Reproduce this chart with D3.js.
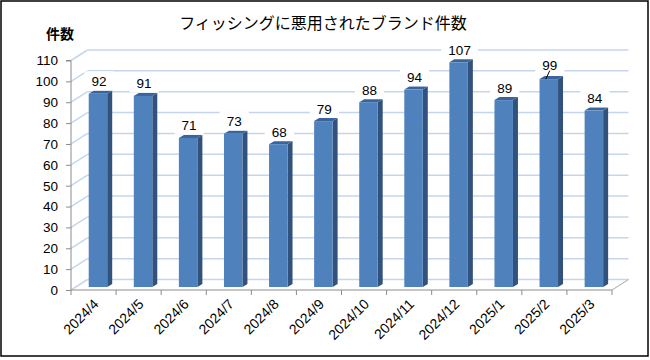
<!DOCTYPE html>
<html><head><meta charset="utf-8">
<script src="https://cdn.jsdelivr.net/npm/d3@7"></script>
<style>body{margin:0;background:#fff}</style>
</head><body><svg id="c" width="650" height="360"></svg>
<script>
const categories = ["2024/4","2024/5","2024/6","2024/7","2024/8","2024/9","2024/10","2024/11","2024/12","2025/1","2025/2","2025/3"];
const values = [92,91,71,73,68,79,88,94,107,89,99,84];
const yTicks = [0,10,20,30,40,50,60,70,80,90,100,110];
const leaderCats = ["2025/2"];
const title = "フィッシングに悪用されたブランド件数";
const yTitle = "件数";

const svg = d3.select("#c");
const font = "'Noto Sans CJK JP','Liberation Sans',sans-serif";
const numFont = "'Liberation Sans','DejaVu Sans',sans-serif";

// outer border
svg.append("rect").attr("x",1).attr("y",1).attr("width",647).attr("height",355)
  .attr("fill","#fff").attr("stroke","#000").attr("stroke-width",1.5);

const x = d3.scaleBand().domain(categories).range([71,612]).padding(0);
const y = d3.scaleLinear().domain([0,110]).range([290,60.5]);
const yBar = d3.scaleLinear().domain([0,110]).range([287,56]);
const DX = 16.5, DY = -10.5; // wall depth
const bdx = 5, bdy = -3;     // bar depth

// back-wall gridlines
const g = svg.append("g");
yTicks.forEach(t => {
  const yy = y(t);
  g.append("line").attr("x1",x.range()[0]).attr("y1",yy).attr("x2",x.range()[0]+DX).attr("y2",yy+DY)
    .attr("stroke","#C5D6EC").attr("stroke-width",1.5);
  g.append("line").attr("x1",x.range()[0]+DX).attr("y1",yy+DY).attr("x2",x.range()[1]+DX).attr("y2",yy+DY)
    .attr("stroke","#C5D6EC").attr("stroke-width",1.5);
});
g.append("line").attr("x1",x.range()[1]).attr("y1",y(0)).attr("x2",x.range()[1]+DX).attr("y2",y(0)+DY)
  .attr("stroke","#A6A6A6").attr("stroke-width",1);

// y axis
const yAxis = d3.axisLeft(y).tickValues(yTicks).tickSize(5).tickPadding(8);
const ya = svg.append("g").attr("transform",`translate(${x.range()[0]},0)`).call(yAxis);
ya.select(".domain").attr("stroke","#8C8C8C").attr("d",`M-5,${y(110)}H0V${y(0)}`);
ya.selectAll(".tick line").attr("stroke","#8C8C8C");
ya.selectAll(".tick text").attr("font-family",numFont).attr("font-size",13.5).attr("fill","#000");

// x axis
const xAxis = d3.axisBottom(x).tickSize(0).tickFormat("");
const xa = svg.append("g").attr("transform",`translate(0,${y(0)})`).call(xAxis);
xa.select(".domain").attr("stroke","#8C8C8C").attr("d",`M${x.range()[0]},0H${x.range()[1]}`);
const tickPos = categories.map(c => x(c)).concat([x.range()[1]]);
xa.selectAll("line.cat").data(tickPos).enter().append("line").attr("class","cat")
  .attr("x1",d=>d).attr("x2",d=>d).attr("y1",0).attr("y2",5).attr("stroke","#8C8C8C");

svg.append("g").selectAll("text").data(categories).enter().append("text")
  .attr("transform",d=>`translate(${x(d)+x.bandwidth()/2+6},${y(0)+15}) rotate(-45)`)
  .attr("text-anchor","end").attr("font-family",numFont).attr("font-size",14).attr("fill","#000")
  .text(d=>d);

// bars
const bw = x.bandwidth();
const bars = svg.append("g").selectAll("g").data(categories.map((c,i)=>({c,v:values[i]}))).enter().append("g");
bars.each(function(d){
  const gg = d3.select(this);
  const x0 = x(d.c) + bw*0.393, x1 = x0 + bw*0.41;
  const yt = yBar(d.v), yb = yBar(0);
  gg.append("path").attr("d",`M${x1},${yb}L${x1+bdx},${yb+bdy}L${x1+bdx},${yt+bdy}L${x1},${yt}Z`).attr("fill","#31527D");
  gg.append("path").attr("d",`M${x0},${yt}L${x0+bdx},${yt+bdy}L${x1+bdx},${yt+bdy}L${x1},${yt}Z`).attr("fill","#3A659C");
  gg.append("rect").attr("x",x0).attr("y",yt).attr("width",x1-x0).attr("height",yb-yt).attr("fill","#4F81BD");
});

// data labels
const lab = svg.append("g");
categories.forEach((c,i) => {
  const v = values[i];
  const cx = x(c) + bw*0.393 + bw*0.205 + 1;
  const lead = leaderCats.includes(c);
  const by = yBar(v) - (lead ? 9.5 : 7.5);
  const txt = String(v);
  const tw = txt.length*7.6;
  lab.append("rect").attr("x",cx-tw/2-7).attr("y",by-15).attr("width",tw+14).attr("height",19).attr("fill","#fff");
  lab.append("text").attr("x",cx).attr("y",by).attr("text-anchor","middle")
    .attr("font-family",numFont).attr("font-size",13.5).attr("fill","#000").text(txt);
  if (lead) {
    lab.append("line").attr("x1",cx-4).attr("y1",yBar(v)).attr("x2",cx).attr("y2",by+1)
      .attr("stroke","#000").attr("stroke-width",1);
  }
});

// titles
svg.append("text").attr("x",323).attr("y",29).attr("text-anchor","middle")
  .attr("font-family",font).attr("font-size",16).attr("fill","#000").text(title);
svg.append("text").attr("x",60).attr("y",39).attr("text-anchor","middle")
  .attr("font-family",font).attr("font-size",14).attr("font-weight","bold").attr("fill","#000").text(yTitle);
</script></body></html>
